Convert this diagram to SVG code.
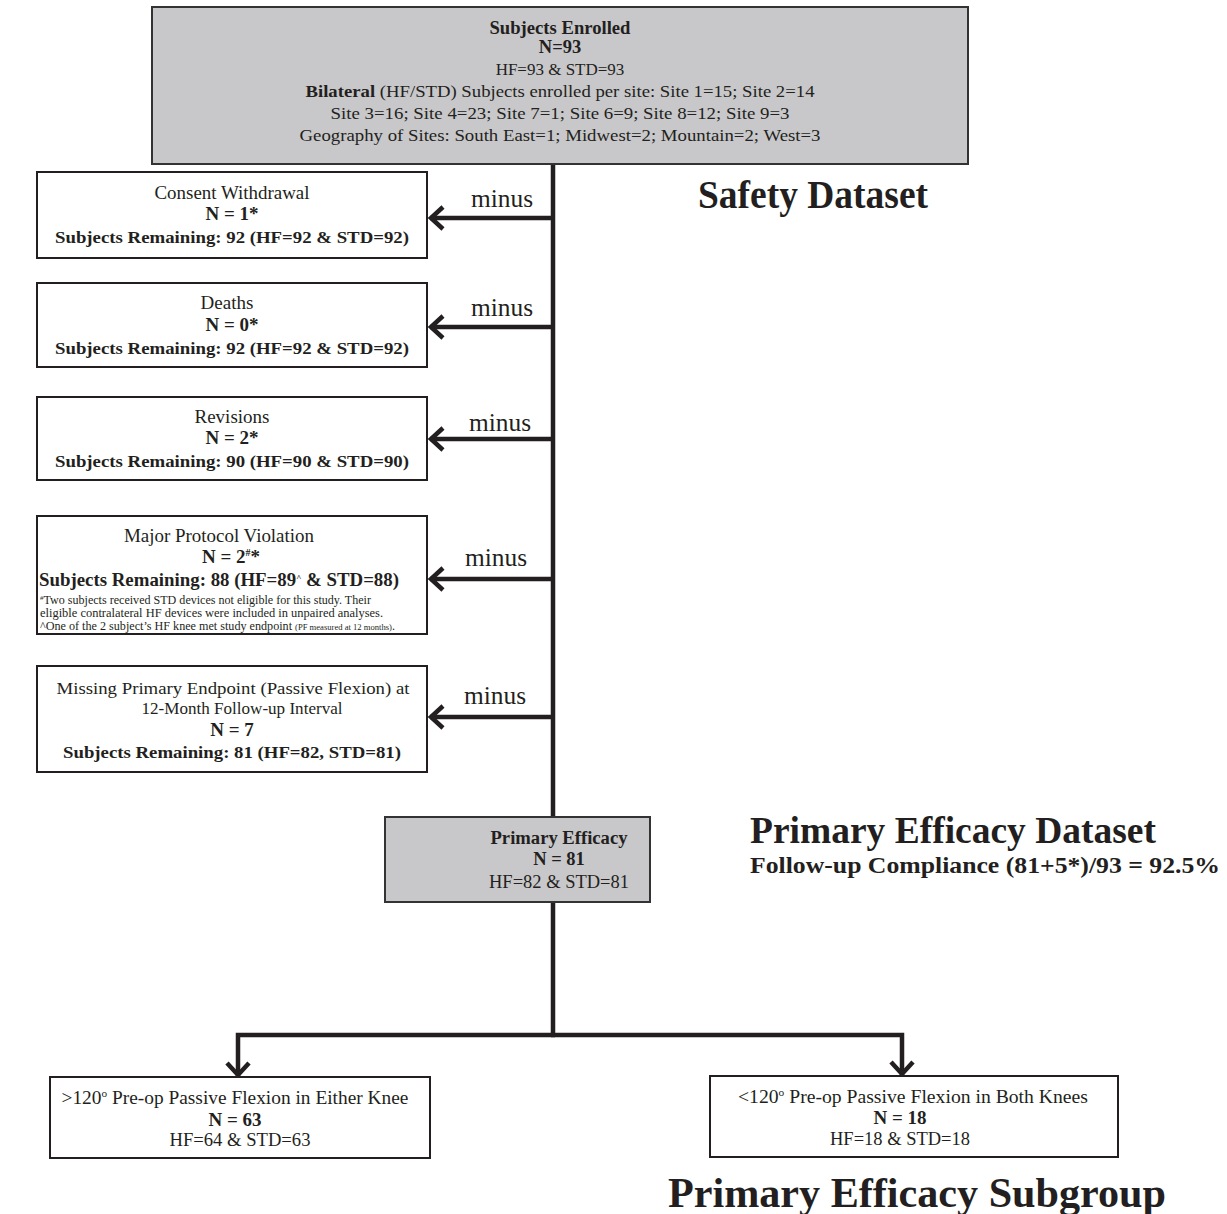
<svg xmlns="http://www.w3.org/2000/svg" width="1227" height="1214" viewBox="0 0 1227 1214">
<style>
text{font-family:"Liberation Serif","Times New Roman",serif;fill:#231f20;text-anchor:middle}
.b{font-weight:bold}
.t{font-size:17px}
.u{font-size:19px}
.m{font-size:25px}
.fn{font-size:12px;text-anchor:start}
.sm{font-size:8.5px}
.h{font-weight:bold;text-anchor:start}
.box{fill:#fff;stroke:#231f20;stroke-width:2}
.gbox{fill:#c8c8ca;stroke:#333;stroke-width:2}
.con{fill:none;stroke:#231f20;stroke-width:4.5}
</style>
<defs>
<marker id="ah" markerUnits="userSpaceOnUse" markerWidth="30" markerHeight="30" viewBox="-20 -15 25 30" refX="0" refY="0" orient="auto">
<path d="M-13,-11 L-1,0 L-13,11" fill="none" stroke="#231f20" stroke-width="4.5"/>
</marker>
</defs>
<g id="connectors">
<path class="con" d="M553,164 V1035"/>
<path class="con" d="M553,218 H430" marker-end="url(#ah)"/>
<path class="con" d="M553,327 H430" marker-end="url(#ah)"/>
<path class="con" d="M553,439 H430" marker-end="url(#ah)"/>
<path class="con" d="M553,579 H430" marker-end="url(#ah)"/>
<path class="con" d="M553,717 H430" marker-end="url(#ah)"/>
<path class="con" d="M555,1035 H238 V1076" marker-end="url(#ah)"/>
<path class="con" d="M551,1035 H902 V1075" marker-end="url(#ah)"/>
<text class="m" x="502" y="207" textLength="62" lengthAdjust="spacingAndGlyphs">minus</text>
<text class="m" x="502" y="316" textLength="62" lengthAdjust="spacingAndGlyphs">minus</text>
<text class="m" x="500" y="431" textLength="62" lengthAdjust="spacingAndGlyphs">minus</text>
<text class="m" x="496" y="566" textLength="62" lengthAdjust="spacingAndGlyphs">minus</text>
<text class="m" x="495" y="704" textLength="62" lengthAdjust="spacingAndGlyphs">minus</text>
</g>
<g id="enrolled">
<rect class="gbox" x="152" y="7" width="816" height="157"/>
<text class="b" font-size="18.5" x="560" y="34" textLength="141" lengthAdjust="spacingAndGlyphs">Subjects Enrolled</text>
<text class="b" font-size="18.5" x="560" y="53">N=93</text>
<text class="t" x="560" y="75">HF=93 &amp; STD=93</text>
<text class="t" x="560" y="97" textLength="509" lengthAdjust="spacingAndGlyphs"><tspan class="b">Bilateral</tspan> (HF/STD) Subjects enrolled per site: Site 1=15; Site 2=14</text>
<text class="t" x="560" y="119" textLength="459" lengthAdjust="spacingAndGlyphs">Site 3=16; Site 4=23; Site 7=1; Site 6=9; Site 8=12; Site 9=3</text>
<text class="t" x="560" y="141" textLength="521" lengthAdjust="spacingAndGlyphs">Geography of Sites: South East=1; Midwest=2; Mountain=2; West=3</text>
</g>
<g id="safety-label">
<text class="h" x="698" y="208" font-size="40" textLength="230" lengthAdjust="spacingAndGlyphs">Safety Dataset</text>
</g>
<g id="consent">
<rect class="box" x="37" y="172" width="390" height="86"/>
<text class="u" x="232" y="199" textLength="155" lengthAdjust="spacingAndGlyphs">Consent Withdrawal</text>
<text class="u b" x="232" y="220">N = 1*</text>
<text class="t b" x="232" y="243" textLength="354" lengthAdjust="spacingAndGlyphs">Subjects Remaining: 92 (HF=92 &amp; STD=92)</text>
</g>
<g id="deaths">
<rect class="box" x="37" y="283" width="390" height="84"/>
<text class="u" x="227" y="309">Deaths</text>
<text class="u b" x="232" y="331">N = 0*</text>
<text class="t b" x="232" y="354" textLength="354" lengthAdjust="spacingAndGlyphs">Subjects Remaining: 92 (HF=92 &amp; STD=92)</text>
</g>
<g id="revisions">
<rect class="box" x="37" y="397" width="390" height="83"/>
<text class="u" x="232" y="423">Revisions</text>
<text class="u b" x="232" y="444">N = 2*</text>
<text class="t b" x="232" y="467" textLength="354" lengthAdjust="spacingAndGlyphs">Subjects Remaining: 90 (HF=90 &amp; STD=90)</text>
</g>
<g id="protocol">
<rect class="box" x="37" y="516" width="390" height="118"/>
<text class="u" x="219" y="542" textLength="190" lengthAdjust="spacingAndGlyphs">Major Protocol Violation</text>
<text class="b" x="231" y="563" font-size="19">N = 2<tspan font-size="10" dy="-7">#</tspan><tspan dy="7">*</tspan></text>
<text class="b" x="219" y="586" font-size="19" textLength="360" lengthAdjust="spacingAndGlyphs">Subjects Remaining: 88 (HF=89<tspan font-size="9" dy="-5">^</tspan><tspan dy="5"> &amp; STD=88)</tspan></text>
<text class="fn" x="40" y="604" textLength="331" lengthAdjust="spacingAndGlyphs"><tspan font-size="7" dy="-4">#</tspan><tspan dy="4">Two subjects received STD devices not eligible for this study. Their</tspan></text>
<text class="fn" x="40" y="617" textLength="343" lengthAdjust="spacingAndGlyphs">eligible contralateral HF devices were included in unpaired analyses.</text>
<text class="fn" x="40" y="630" textLength="355" lengthAdjust="spacingAndGlyphs">^One of the 2 subject’s HF knee met study endpoint <tspan class="sm">(PF measured at 12 months)</tspan>.</text>
</g>
<g id="missing">
<rect class="box" x="37" y="666" width="390" height="106"/>
<text class="t" x="233" y="694" textLength="353" lengthAdjust="spacingAndGlyphs">Missing Primary Endpoint (Passive Flexion) at</text>
<text class="t" x="242" y="714" textLength="201" lengthAdjust="spacingAndGlyphs">12-Month Follow-up Interval</text>
<text class="u b" x="232" y="736">N = 7</text>
<text class="t b" x="232" y="758" textLength="338" lengthAdjust="spacingAndGlyphs">Subjects Remaining: 81 (HF=82, STD=81)</text>
</g>
<g id="primary-efficacy">
<rect class="gbox" x="385" y="817" width="265" height="85"/>
<text class="b" font-size="18.5" x="559" y="844" textLength="137" lengthAdjust="spacingAndGlyphs">Primary Efficacy</text>
<text class="b" font-size="18.5" x="559" y="865">N = 81</text>
<text class="u" x="559" y="888" textLength="140" lengthAdjust="spacingAndGlyphs">HF=82 &amp; STD=81</text>
</g>
<g id="efficacy-label">
<text class="h" x="750" y="843" font-size="38" textLength="406" lengthAdjust="spacingAndGlyphs">Primary Efficacy Dataset</text>
<text class="h" x="750" y="873" font-size="24" textLength="470" lengthAdjust="spacingAndGlyphs">Follow-up Compliance (81+5*)/93 = 92.5%</text>
</g>
<g id="subgroup-high">
<rect class="box" x="50" y="1077" width="380" height="81"/>
<text class="u" x="235" y="1104" textLength="347" lengthAdjust="spacingAndGlyphs">&gt;120<tspan font-size="11" dy="-7">o</tspan><tspan dy="7"> Pre-op Passive Flexion in Either Knee</tspan></text>
<text class="u b" x="235" y="1126">N = 63</text>
<text class="u" x="240" y="1146" textLength="141" lengthAdjust="spacingAndGlyphs">HF=64 &amp; STD=63</text>
</g>
<g id="subgroup-low">
<rect class="box" x="710" y="1076" width="408" height="81"/>
<text class="u" x="913" y="1103" textLength="350" lengthAdjust="spacingAndGlyphs">&lt;120<tspan font-size="11" dy="-7">o</tspan><tspan dy="7"> Pre-op Passive Flexion in Both Knees</tspan></text>
<text class="u b" x="900" y="1124">N = 18</text>
<text class="u" x="900" y="1145" textLength="140" lengthAdjust="spacingAndGlyphs">HF=18 &amp; STD=18</text>
</g>
<g id="subgroup-label">
<text class="h" x="668" y="1207" font-size="42" textLength="498" lengthAdjust="spacingAndGlyphs">Primary Efficacy Subgroup</text>
</g>
</svg>
